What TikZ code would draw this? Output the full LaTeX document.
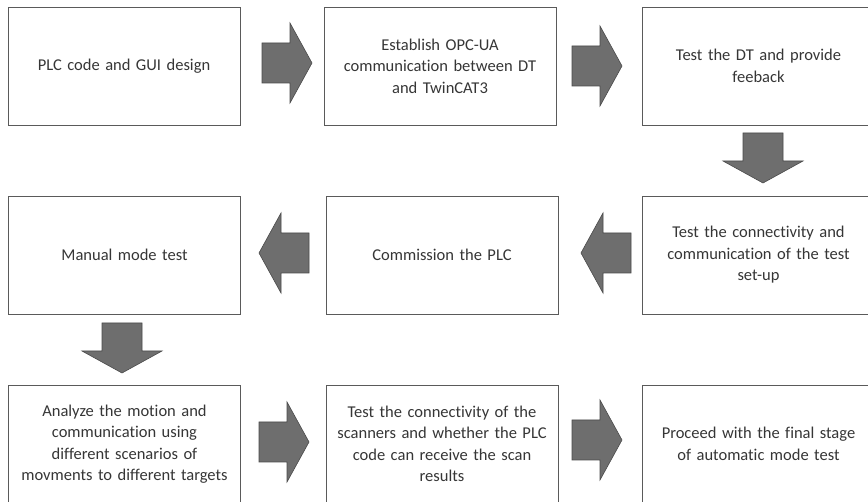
\documentclass[tikz,border=0pt]{standalone}
\usepackage{fontspec}
\setmainfont[Ligatures=NoCommon]{Carlito}
\definecolor{boxline}{HTML}{5A5A5A}
\definecolor{txt}{HTML}{363636}
\definecolor{arrfill}{HTML}{6E6E6E}
\definecolor{arrline}{HTML}{4A4A4A}
\tikzset{
  stepbox/.style={draw=boxline, line width=0.8pt, fill=white, minimum width=232pt, minimum height=118pt,
    text width=226pt, align=center, text=txt, inner sep=0pt,
    font=\fontsize{16.5}{21.5}\selectfont},
  barrowstyle/.style={fill=arrfill, draw=arrline, line width=0.6pt, line join=miter},
  blockarrow/.pic={\draw[barrowstyle] (-25,-20) -- (3,-20) -- (3,-40) -- (25,0) -- (3,40) -- (3,20) -- (-25,20) -- cycle;}
}
\begin{document}
\begin{tikzpicture}[x=1pt,y=-1pt]
\clip (0,0) rectangle (868,502);
\fill[white] (0,0) rectangle (868,502);
% row 1
\node[stepbox] (b1) at (124,66) {PLC code and GUI design};
\node[stepbox] (b2) at (440,66) {Establish OPC-UA\\communication between DT\\and TwinCAT3};
\node[stepbox] (b3) at (758.5,66) {Test the DT and provide\\feeback};
% row 2
\node[stepbox] (b4) at (758.5,255) {Test the connectivity and\\communication of the test\\set-up};
\node[stepbox] (b5) at (442,255) {Commission the PLC};
\node[stepbox] (b6) at (124.5,255) {Manual mode test};
% row 3
\node[stepbox] (b7) at (124.5,444) {Analyze the motion and\\communication using\\different scenarios of\\movments to different targets};
\node[stepbox] (b8) at (442,444) {Test the connectivity of the\\scanners and whether the PLC\\code can receive the scan\\results};
\node[stepbox] (b9) at (758.5,444) {Proceed with the final stage\\of automatic mode test};
% block arrows
\pic at (287,63) {blockarrow};
\pic at (597,66) {blockarrow};
\pic[rotate=-90] at (763,158) {blockarrow};
\pic[rotate=180] at (606,253) {blockarrow};
\pic[rotate=180] at (284,253) {blockarrow};
\pic[rotate=-90] at (122,348) {blockarrow};
\pic at (284,442) {blockarrow};
\pic at (597,440) {blockarrow};
\end{tikzpicture}
\end{document}
